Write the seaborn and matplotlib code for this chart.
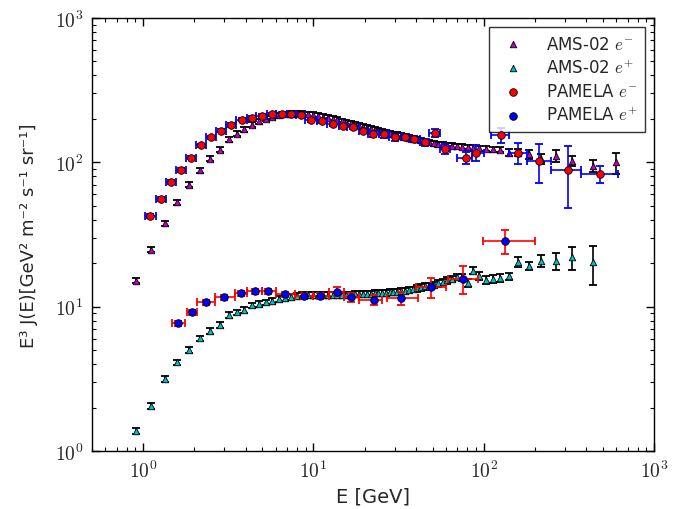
import numpy as np
import pandas as pd
import matplotlib
matplotlib.use("Agg")
import matplotlib.pyplot as plt
import seaborn as sns
from matplotlib.ticker import FuncFormatter, LogLocator

# ---------------- data ----------------
ams_em_E = [0.91, 1.11, 1.34, 1.59, 1.86, 2.15, 2.48, 2.82, 3.18, 3.54, 3.92, 4.33, 4.77,
            5.24, 5.74, 6.27, 6.82, 7.39, 8.0, 8.62, 9.28, 9.97, 10.68, 11.42, 12.19, 13.0,
            13.83, 14.69, 15.59, 16.52, 17.48, 18.49, 19.51, 20.58, 21.69, 22.83, 24.02,
            25.26, 26.57, 27.96, 29.44, 31.0, 32.67, 34.44, 36.33, 38.35, 40.5, 42.8, 45.3,
            47.95, 50.8, 53.95, 57.35, 61.1, 65.2, 69.7, 74.7, 80.4, 86.8, 94.1, 102.7,
            112.9, 125.3, 140.5, 159.4, 183.8, 217.5, 263.6, 330.0, 435.0, 600.0]
ams_em_F = [15.1, 24.8, 38, 53, 70, 88, 106, 122, 144, 158, 170, 182, 192,
            200, 207, 212, 216, 218, 219, 218, 216, 213, 210, 207, 204, 200,
            197, 193, 190, 186, 183, 180, 177, 174, 171, 168, 166,
            163, 161, 159, 157, 155, 153, 151, 148, 146, 144, 142, 140,
            138, 136, 134, 133, 131, 130, 129, 128, 127, 126, 125, 124,
            123, 122, 117, 117, 114, 106, 111, 103, 95, 100]
ams_em_rel = [0.04] * 63 + [0.05, 0.06, 0.07, 0.08, 0.09, 0.08, 0.10, 0.17]

ams_ep_E = [0.91, 1.11, 1.34, 1.59, 1.86, 2.15, 2.48, 2.82, 3.18, 3.54, 3.92, 4.33, 4.77,
            5.24, 5.74, 6.27, 6.82, 7.39, 8.0, 8.62, 9.28, 9.97, 10.68, 11.42, 12.19, 13.0,
            13.83, 14.69, 15.59, 16.52, 17.48, 18.49, 19.51, 20.58, 21.69, 22.83, 24.02,
            25.26, 26.57, 27.96, 29.44, 31.0, 32.67, 34.44, 36.33, 38.35, 40.5, 42.8, 45.3,
            47.95, 50.8, 53.95, 57.35, 61.1, 65.2, 69.7, 74.7, 80.4, 86.8, 94.1, 102.7,
            112.9, 125.3, 140.5, 159.4, 183.8, 217.5, 263.6, 330.0, 435.0]
ams_ep_F = [1.38, 2.06, 3.16, 4.12, 5.01, 6.04, 6.82, 7.47, 8.75, 9.14, 9.53, 10.2, 10.4,
            10.7, 11.0, 11.3, 11.5, 11.7, 11.9, 12.0, 12.1, 12.1, 12.1, 12.1, 12.1, 12.1,
            12.1, 12.1, 12.1, 12.1, 12.2, 12.2, 12.2, 12.3, 12.3, 12.4, 12.4,
            12.5, 12.5, 12.6, 12.6, 12.7, 12.8, 12.9, 13.0, 13.2, 13.4, 13.6, 13.8,
            14.0, 14.2, 14.5, 14.8, 15.2, 15.6, 16.0, 16.0, 14.6, 17.8, 16.4, 15.3,
            15.6, 15.8, 16.2, 20.5, 19.2, 20.8, 20.8, 22.0, 20.3]
ams_ep_rel = [0.045] * 46 + [0.05] * 10 + [0.06] * 7 + [0.06, 0.08, 0.06, 0.10, 0.13, 0.18, 0.30]

pam_em_E = [1.10, 1.27, 1.45, 1.66, 1.91, 2.19, 2.50, 2.87, 3.28, 3.79, 4.34, 4.97, 5.7,
            6.5, 7.4, 8.4, 9.7, 11.2, 13.0, 14.9, 17.1, 19.6, 22.4, 25.9, 30.0, 34.5,
            39.0, 45.0, 51.5, 59.0, 79.0, 90.6, 127.0, 159.0, 212.0, 312.0, 478.0]
pam_em_F = [42.7, 55.7, 72.8, 89, 108, 131, 149, 166, 182, 198, 203, 211, 215,
            217, 218, 214, 196, 192, 184, 180, 175, 165, 157, 156, 149, 150,
            146, 138, 160, 124, 108, 117, 155, 117, 103, 89, 83]
pam_em_lo = [1.02, 1.19, 1.36, 1.55, 1.78, 2.05, 2.34, 2.67, 3.08, 3.50, 4.10, 4.60, 5.36,
             6.06, 6.97, 7.86, 8.98, 10.5, 11.95, 14.1, 15.8, 18.5, 20.8, 24.2, 27.7, 32.5,
             36.6, 42.0, 48.0, 55.0, 70.0, 85.0, 110.0, 140.0, 180.0, 249.0, 374.0]
pam_em_hi = [1.19, 1.36, 1.55, 1.78, 2.05, 2.34, 2.67, 3.08, 3.50, 4.10, 4.60, 5.36, 6.06,
             6.97, 7.86, 8.98, 10.5, 11.95, 14.1, 15.8, 18.5, 20.8, 24.2, 27.7, 32.5, 36.6,
             42.0, 48.0, 55.0, 63.0, 85.0, 100.0, 140.0, 180.0, 249.0, 374.0, 612.0]
pam_em_rel = [0.03] * 22 + [0.05] * 5 + [0.06, 0.07, 0.08, 0.10, 0.12, 0.12, 0.17, 0.30, 0.46, 0.13]

pam_ep_E = [1.61, 1.93, 2.34, 3.0, 3.76, 4.53, 5.38, 6.8, 8.8, 10.9, 13.7, 16.7, 22.7,
            32.5, 49.2, 75.6, 133.0]
pam_ep_F = [7.67, 9.14, 10.7, 11.6, 12.4, 12.8, 12.8, 12.2, 11.9, 11.9, 12.7, 11.6, 11.1,
            11.5, 13.6, 15.6, 28.7]
pam_ep_lo = [1.47, 1.80, 2.07, 2.64, 3.45, 4.10, 5.0, 6.0, 7.8, 9.9, 12.4, 15.2, 18.6,
             27.0, 40.0, 62.0, 98.3]
pam_ep_hi = [1.76, 2.06, 2.64, 3.45, 4.10, 5.0, 6.0, 7.8, 9.9, 12.4, 15.2, 18.6, 25.2,
             41.0, 60.0, 92.0, 199.0]
pam_ep_rel = [0.04] * 8 + [0.05, 0.05, 0.07, 0.07, 0.08, 0.10, 0.16, 0.22, 0.19]

labels = ["AMS-02 $e^{-}$", "AMS-02 $e^{+}$", "PAMELA $e^{-}$", "PAMELA $e^{+}$"]
x_ticks = [1, 10, 100, 1000]
y_ticks = [1, 10, 100, 1000]

# ---------------- style ----------------
sns.set_style("ticks")
plt.rcParams["font.family"] = ["DejaVu Sans"]
plt.rcParams["mathtext.fontset"] = "cm"

fig = plt.figure(figsize=(6.8, 5.1), dpi=100)
ax = fig.add_axes([0.135, 0.1137, 0.827, 0.849])

def draw(E, F, rel, mcolor, ecolor, marker, size, label, z, xlo=None, xhi=None):
    E = np.asarray(E, float)
    F = np.asarray(F, float)
    yerr = F * np.asarray(rel, float)
    xerr = None
    if xlo is not None:
        xerr = [E - np.asarray(xlo, float), np.asarray(xhi, float) - E]
    ax.errorbar(E, F, yerr=yerr, xerr=xerr, fmt="none", ecolor=ecolor,
                elinewidth=1.2, capsize=3, capthick=1.3, zorder=z)
    df = pd.DataFrame({"E": E, "F": F})
    sns.scatterplot(data=df, x="E", y="F", ax=ax, marker=marker, s=size,
                    color=mcolor, edgecolor="black", linewidth=0.6,
                    label=label, zorder=z + 0.5)

draw(ams_em_E, ams_em_F, ams_em_rel, (0.75, 0, 0.75), "black", "^", 22, labels[0], 3)
draw(ams_ep_E, ams_ep_F, ams_ep_rel, (0, 0.75, 0.75), "black", "^", 22, labels[1], 4)
draw(pam_em_E, pam_em_F, pam_em_rel, "red", "blue", "o", 30, labels[2], 5,
     pam_em_lo, pam_em_hi)
draw(pam_ep_E, pam_ep_F, pam_ep_rel, "blue", "red", "o", 30, labels[3], 6,
     pam_ep_lo, pam_ep_hi)

ax.set_xscale("log")
ax.set_yscale("log")
ax.set_xlim(0.5, 1000)
ax.set_ylim(1, 1000)
ax.set_xticks(x_ticks)
ax.set_yticks(y_ticks)
fmt = FuncFormatter(lambda v, p: r"$10^{%d}$" % int(round(np.log10(v))))
ax.xaxis.set_major_formatter(fmt)
ax.yaxis.set_major_formatter(fmt)
ax.xaxis.set_minor_locator(LogLocator(base=10, subs=np.arange(2, 10)))
ax.yaxis.set_minor_locator(LogLocator(base=10, subs=np.arange(2, 10)))
ax.tick_params(which="both", direction="in", top=True, right=True, color="black")
ax.tick_params(which="major", length=6, width=1, labelsize=14, pad=6)
ax.tick_params(which="minor", length=3, width=0.8)
for s in ax.spines.values():
    s.set_color("black")
    s.set_linewidth(1.0)

ax.set_xlabel("E [GeV]", fontsize=14, labelpad=4)
ax.set_ylabel("E³ J(E)[GeV² m⁻² s⁻¹ sr⁻¹]", fontsize=13, labelpad=12)

leg = ax.legend(loc="upper right", frameon=True, fancybox=False, fontsize=12,
                borderaxespad=0.55, handletextpad=1.0, labelspacing=0.35,
                borderpad=0.45, scatterpoints=1)
leg.get_frame().set_edgecolor("black")
leg.get_frame().set_linewidth(1.0)

fig.savefig("out.png", dpi=100)
